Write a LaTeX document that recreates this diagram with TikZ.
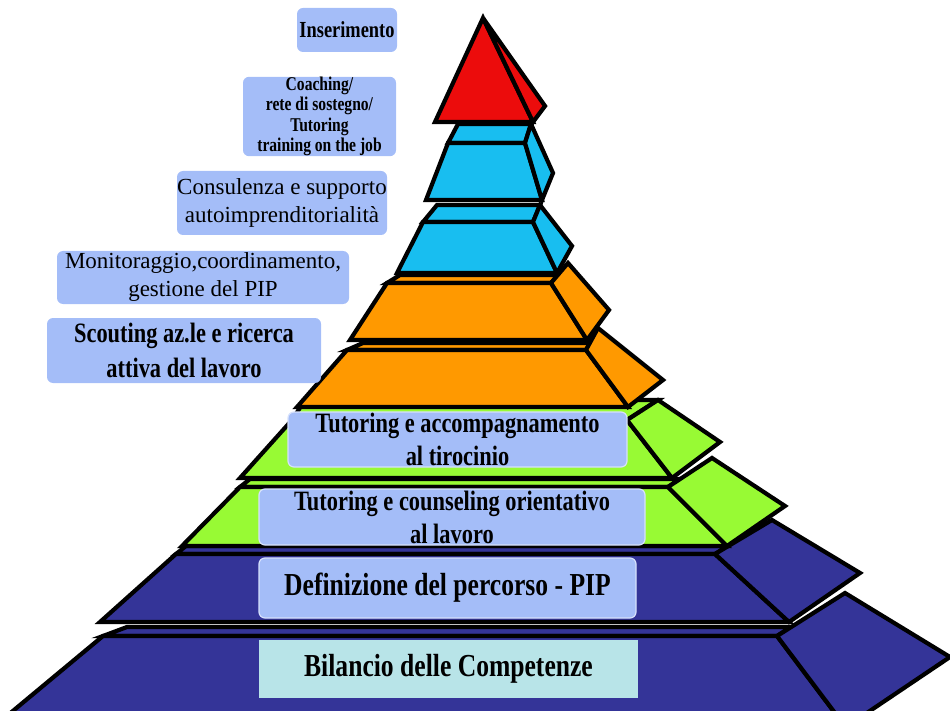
\documentclass[tikz,border=0pt]{standalone}
\usepackage{fontspec}
\setmainfont{Liberation Serif}
\newfontfamily\condserif[FakeStretch=0.8]{Liberation Serif}
\definecolor{pipred}{RGB}{236,12,12}
\definecolor{pipcyan}{RGB}{24,190,240}
\definecolor{piporange}{RGB}{255,153,0}
\definecolor{pipgreen}{RGB}{152,250,52}
\definecolor{pipblue}{RGB}{52,52,152}
\definecolor{tagblue}{RGB}{164,189,248}
\definecolor{tagcyan}{RGB}{184,228,232}

\begin{document}
\begin{tikzpicture}[
  x=1pt, y=-1pt,
  slab/.style={draw=black, line width=4.2pt},
  tag/.style={fill=tagblue, rounded corners=6pt, inner sep=0pt, align=center},
  tag rim/.style={tag, draw=white!55!tagblue, line width=1.2pt}
]
\useasboundingbox (0,0) rectangle (950,711);
\clip (0,0) rectangle (950,711);
% bottom slab
\filldraw[slab, fill=pipblue] (127,627) -- (791,627) -- (777,636) -- (103,636) -- cycle;
\filldraw[slab, fill=pipblue] (103,636) -- (777,636) -- (844,725) -- (-4,725) -- cycle;
\filldraw[slab, fill=pipblue] (777,636) -- (845,593) -- (950,657) -- (849,725) -- (844,725) -- cycle;
\filldraw[slab, fill=pipblue] (186,546) -- (728,546) -- (715,554) -- (176,554) -- cycle;
\filldraw[slab, fill=pipblue] (176,554) -- (715,554) -- (789,622) -- (100,622) -- cycle;
\filldraw[slab, fill=pipblue] (715,554) -- (772,520) -- (860,573) -- (789,622) -- cycle;
% green slabs
\filldraw[slab, fill=pipgreen] (250,479) -- (680,479) -- (668,487) -- (240,487) -- cycle;
\filldraw[slab, fill=pipgreen] (240,487) -- (668,487) -- (727,546) -- (182,546) -- cycle;
\filldraw[slab, fill=pipgreen] (668,487) -- (712,458) -- (785,506) -- (727,546) -- cycle;
\filldraw[slab, fill=pipgreen] (305,400) -- (658,400) -- (627,420) -- (292,420) -- cycle;
\filldraw[slab, fill=pipgreen] (292,420) -- (627,420) -- (672,478) -- (240,478) -- cycle;
\filldraw[slab, fill=pipgreen] (627,420) -- (658,400) -- (720,442) -- (672,478) -- cycle;
% orange slabs
\filldraw[slab, fill=piporange] (363,343) -- (590,343) -- (586,350) -- (347,350) -- cycle;
\filldraw[slab, fill=piporange] (347,350) -- (586,350) -- (628,407) -- (297,407) -- cycle;
\filldraw[slab, fill=piporange] (586,350) -- (598,328) -- (663,380) -- (628,407) -- cycle;
\filldraw[slab, fill=piporange] (400,275) -- (558,275) -- (551,283) -- (387,283) -- cycle;
\filldraw[slab, fill=piporange] (387,283) -- (551,283) -- (587,340) -- (350,340) -- cycle;
\filldraw[slab, fill=piporange] (551,283) -- (568,263) -- (609,310) -- (587,340) -- cycle;
% cyan slabs
\filldraw[slab, fill=pipcyan] (437,205) -- (540,205) -- (533,222) -- (423,222) -- cycle;
\filldraw[slab, fill=pipcyan] (423,222) -- (533,222) -- (557,273) -- (397,273) -- cycle;
\filldraw[slab, fill=pipcyan] (533,222) -- (540,205) -- (572,246) -- (557,273) -- cycle;
\filldraw[slab, fill=pipcyan] (458,124) -- (531,124) -- (525,143) -- (448,143) -- cycle;
\filldraw[slab, fill=pipcyan] (448,143) -- (525,143) -- (542,200) -- (426,200) -- cycle;
\filldraw[slab, fill=pipcyan] (525,143) -- (531,124) -- (553,173) -- (542,200) -- cycle;
% tip
\filldraw[slab, fill=pipred] (483,18) -- (533,122) -- (435,122) -- cycle;
\filldraw[slab, fill=pipred] (483,18) -- (545,106) -- (533,122) -- cycle;
% labels
\node[tag, minimum width=100pt, minimum height=44pt,
  font=\condserif\bfseries\fontsize{23}{26}\selectfont] (ins) at (347,30) {Inserimento};
\node[tag, minimum width=153pt, minimum height=77pt,
  font=\condserif\bfseries\fontsize{19.5}{20.5}\selectfont] (coach) at (319.5,116.5)
  {Coaching/\\rete di sostegno/\\Tutoring\\training on the job};
\node[tag, minimum width=210pt, minimum height=64pt,
  font=\fontsize{23}{28}\selectfont] (consul) at (282,203)
  {Consulenza e supporto\\autoimprenditorialità};
\node[tag, minimum width=292pt, minimum height=53pt,
  font=\fontsize{23}{28}\selectfont] (monit) at (203,277.5)
  {Monitoraggio,coordinamento,\\gestione del PIP};
\node[tag, minimum width=274pt, minimum height=65pt,
  font=\condserif\bfseries\fontsize{28}{35}\selectfont] (scout) at (184,350.5)
  {Scouting az.le e ricerca\\attiva del lavoro};
\node[tag rim, minimum width=339pt, minimum height=55pt,
  font=\condserif\bfseries\fontsize{28}{33}\selectfont] (tutTir) at (457.5,439.5)
  {Tutoring e accompagnamento\\al tirocinio};
\node[tag rim, minimum width=386pt, minimum height=56pt,
  font=\condserif\bfseries\fontsize{28}{33}\selectfont] (tutLav) at (452,517)
  {Tutoring e counseling orientativo\\al lavoro};
\node[tag rim, minimum width=377pt, minimum height=60pt,
  font=\condserif\bfseries\fontsize{32}{36}\selectfont] (pip) at (447.5,588)
  {Definizione del percorso - PIP};
\node[tag, fill=tagcyan, rounded corners=0pt, minimum width=379pt, minimum height=58pt,
  font=\condserif\bfseries\fontsize{32}{36}\selectfont] (bil) at (448.5,669)
  {Bilancio delle Competenze};
\end{tikzpicture}
\end{document}
